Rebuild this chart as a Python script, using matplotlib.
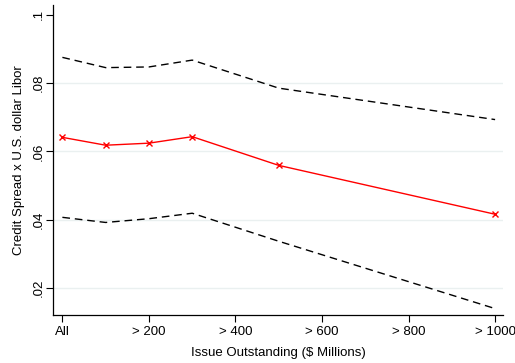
import matplotlib
matplotlib.use("Agg")
import matplotlib.pyplot as plt

plt.rcParams['font.family'] = ['Liberation Sans', 'DejaVu Sans']

issue_size = [0, 100, 200, 300, 500, 1000]
spread = [0.0641, 0.0618, 0.0624, 0.0643, 0.0559, 0.0416]
upper_ci = [0.0875, 0.0845, 0.0847, 0.0867, 0.0785, 0.0693]
lower_ci = [0.0407, 0.0392, 0.0403, 0.0419, 0.0337, 0.0140]

xticks = [0, 200, 400, 600, 800, 1000]
xticklabels = ["All", "> 200", "> 400", "> 600", "> 800", "> 1000"]
yticks = [0.02, 0.04, 0.06, 0.08, 0.1]
yticklabels = [".02", ".04", ".06", ".08", ".1"]
grid_levels = [0.02, 0.04, 0.06, 0.08]

fig = plt.figure(figsize=(5.15, 3.63), dpi=100)
ax = fig.add_axes([0.1035, 0.132, 0.873, 0.854])

for g in grid_levels:
    ax.axhline(g, color='#eaf0f0', lw=1.0, zorder=0)

ax.plot(issue_size, upper_ci, color='black', lw=1.0, ls=(0, (5.5, 3.5)))
ax.plot(issue_size, lower_ci, color='black', lw=1.0, ls=(0, (5.5, 3.5)))
ax.plot(issue_size, spread, color='red', lw=1.0, marker='x', ms=5, mew=1.0)

ax.set_xlim(-21, 1018)
ax.set_ylim(0.0121, 0.1028)
ax.set_xticks(xticks)
ax.set_xticklabels(xticklabels, fontsize=9.5)
ax.set_yticks(yticks)
ax.set_yticklabels(yticklabels, fontsize=9.5, rotation=90, va='center')
ax.tick_params(axis='both', direction='out', length=5, width=0.8, color='black')
ax.tick_params(axis='x', pad=3)
ax.tick_params(axis='y', pad=1.5)

ax.set_xlabel("Issue Outstanding ($ Millions)", fontsize=9.5, labelpad=6)
ax.set_ylabel("Credit Spread x U.S. dollar Libor", fontsize=9.5)
ax.yaxis.set_label_coords(-0.062, 0.5)

for s in ['top', 'right']:
    ax.spines[s].set_visible(False)
for s in ['left', 'bottom']:
    ax.spines[s].set_linewidth(0.9)

fig.savefig("out.png", dpi=100)
